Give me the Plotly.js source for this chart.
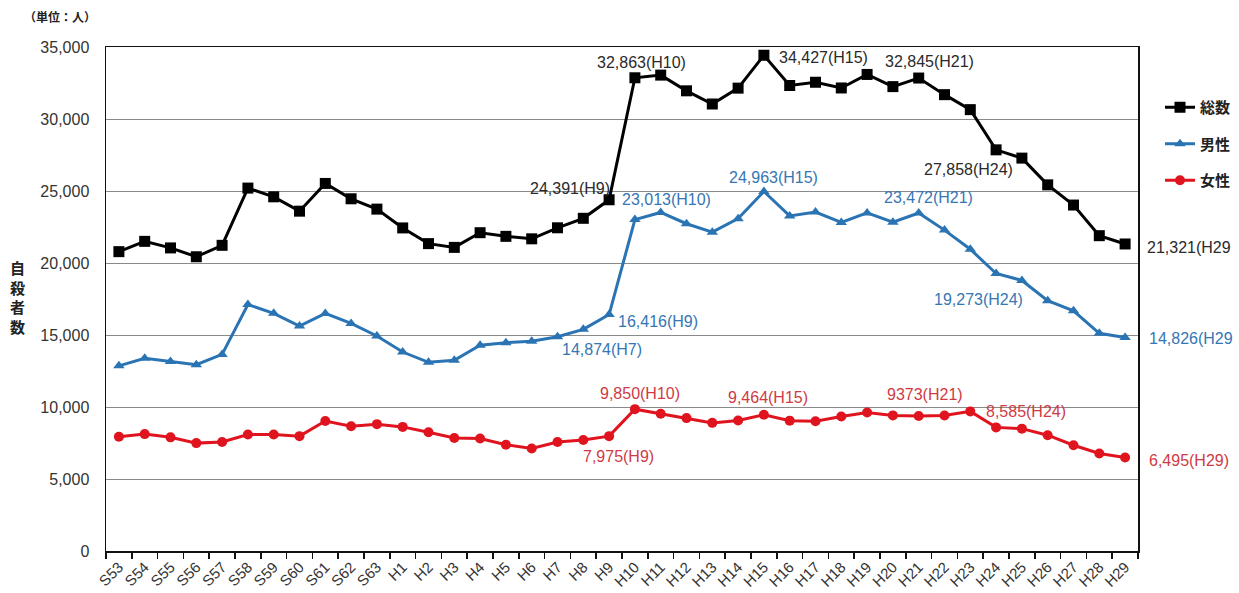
<!DOCTYPE html>
<html>
<head>
<meta charset="utf-8">
<script src="https://cdn.plot.ly/plotly-3.0.1.min.js"></script>
<style>
html,body{margin:0;padding:0;background:#fff;}
#chart{width:1239px;height:593px;}
</style>
</head>
<body>
<div id="chart"></div>
<script>
// Categories (fiscal years: Showa 53 – Heisei 29)
const categories = ["S53","S54","S55","S56","S57","S58","S59","S60","S61","S62","S63",
  "H1","H2","H3","H4","H5","H6","H7","H8","H9","H10","H11","H12","H13","H14","H15",
  "H16","H17","H18","H19","H20","H21","H22","H23","H24","H25","H26","H27","H28","H29"];

// 総数 (total)
const totalValues = [20788,21503,21048,20434,21228,25202,24596,23599,25524,24460,23742,
  22436,21346,21084,22104,21851,21679,22445,23104,24391,32863,33048,31957,31042,32143,34427,
  32325,32552,32155,33093,32249,32845,31690,30651,27858,27283,25427,24025,21897,21321];

// 男性 (male)
const maleValues = [12859,13386,13155,12942,13654,17116,16508,15624,16497,15802,14934,
  13818,13102,13242,14296,14468,14560,14874,15393,16416,23013,23512,22727,22144,23080,24963,
  23272,23540,22813,23478,22831,23472,22283,20955,19273,18787,17386,16681,15121,14826];

// 女性 (female)
const femaleValues = [7929,8117,7893,7492,7574,8086,8088,7975,9027,8658,8808,
  8618,8244,7842,7808,7383,7119,7571,7711,7975,9850,9536,9230,8898,9063,9464,
  9053,9012,9342,9615,9418,9373,9407,9696,8585,8496,8041,7344,6776,6495];

const seriesNames = ["総数","男性","女性"];
const yTickValues = [0,5000,10000,15000,20000,25000,30000,35000];

// Callout texts as they appear in the chart
const totalLabels  = ["32,863(H10)","24,391(H9)","34,427(H15)","32,845(H21)","27,858(H24)","21,321(H29"];
const maleLabels   = ["23,013(H10)","24,963(H15)","23,472(H21)","19,273(H24)","16,416(H9)","14,874(H7)","14,826(H29"];
const femaleLabels = ["9,850(H10)","9,464(H15)","9373(H21)","8,585(H24)","7,975(H9)","6,495(H29)"];

const BLACK = "#000000", BLUE = "#2a74b4", RED = "#e0141e";
const BLUE_TXT = "#3576b3", RED_TXT = "#cf3a44", DARK_TXT = "#2a2a2a";

// plot area in pixels
const L = 106, R = 1138, T = 47, B = 551;
const W = 1239, H = 593;
function px(x){ return (x - L) / (R - L); }
function py(y){ return (B - y) / (B - T); }

const traces = [
  {x: categories, y: totalValues, name: seriesNames[0], type: "scatter", mode: "lines+markers",
   line: {color: BLACK, width: 3}, marker: {symbol: "square", size: 11, color: BLACK}, legendgroup: "a"},
  {x: categories, y: maleValues, name: seriesNames[1], type: "scatter", mode: "lines+markers",
   line: {color: BLUE, width: 3}, marker: {symbol: "triangle-up", size: 10, color: BLUE}, legendgroup: "b"},
  {x: categories, y: femaleValues, name: seriesNames[2], type: "scatter", mode: "lines+markers",
   line: {color: RED, width: 3}, marker: {symbol: "circle", size: 10, color: RED}, legendgroup: "c"}
];

// label placement (pixel centers / left edges)
const labelPos = {
  total:  [[641,62,"center"],[570,188,"center"],[823,57,"center"],[929,61,"center"],[968,169,"center"],[1145,247,"left"]],
  male:   [[666,199,"center"],[773,177,"center"],[928,197,"center"],[978,299,"center"],[658,321,"center"],[602,349,"center"],[1147,338,"left"]],
  female: [[640,393,"center"],[768,397,"center"],[925,394,"center"],[1026,411,"center"],[618,456,"center"],[1147,460,"left"]]
};

const annotations = [];
function addLabels(texts, pos, color){
  texts.forEach((t,i)=>{
    const p = pos[i];
    annotations.push({text: t, xref: "paper", yref: "paper", x: px(p[0]), y: py(p[1]),
      xanchor: p[2], yanchor: "middle", showarrow: false,
      font: {family: "Liberation Sans, Arial, sans-serif", size: 16, color: color}});
  });
}
addLabels(totalLabels, labelPos.total, DARK_TXT);
addLabels(maleLabels, labelPos.male, BLUE_TXT);
addLabels(femaleLabels, labelPos.female, RED_TXT);

// unit label
annotations.push({text: "（単位：人）", xref: "paper", yref: "paper", x: px(22), y: py(16),
  xanchor: "left", yanchor: "middle", showarrow: false,
  font: {family: "Noto Sans CJK JP, sans-serif", size: 12, color: "#222", weight: 700}});
// vertical y-axis title
annotations.push({text: "自<br>殺<br>者<br>数", xref: "paper", yref: "paper", x: px(17), y: py(297),
  xanchor: "center", yanchor: "middle", showarrow: false, align: "center",
  font: {family: "Noto Sans CJK JP, sans-serif", size: 15, color: "#222", weight: 700}});

const layout = {
  width: W, height: H,
  margin: {l: L, r: W - R, t: T, b: H - B, pad: 0, autoexpand: false},
  paper_bgcolor: "#ffffff", plot_bgcolor: "#ffffff",
  showlegend: true,
  legend: {x: px(1160), xanchor: "left", y: py(91), yanchor: "top",
    font: {family: "Noto Sans CJK JP, sans-serif", size: 15, color: "#222", weight: 700},
    tracegroupgap: 14, bgcolor: "rgba(0,0,0,0)", borderwidth: 0},
  xaxis: {type: "category", tickangle: -45, showgrid: false, automargin: false,
    showline: true, linecolor: "#111", linewidth: 1.5, mirror: true,
    ticks: "outside", tickson: "boundaries", ticklen: 6, tickcolor: "#111", tickwidth: 1.5,
    tickfont: {family: "Liberation Sans, Arial, sans-serif", size: 15, color: "#333"},
    range: [-0.5, categories.length - 0.5], fixedrange: true},
  yaxis: {range: [0, 35000], tickvals: yTickValues, tickformat: ",d", automargin: false,
    showgrid: true, gridcolor: "#8a8a8a", gridwidth: 1, zeroline: false,
    showline: true, linecolor: "#111", linewidth: 1.5, mirror: true,
    ticks: "", ticklabelstandoff: 12,
    tickfont: {family: "Liberation Sans, Arial, sans-serif", size: 16, color: "#333"}},
  annotations: annotations
};

Plotly.newPlot("chart", traces, layout, {displayModeBar: false, staticPlot: true});
</script>
</body>
</html>
